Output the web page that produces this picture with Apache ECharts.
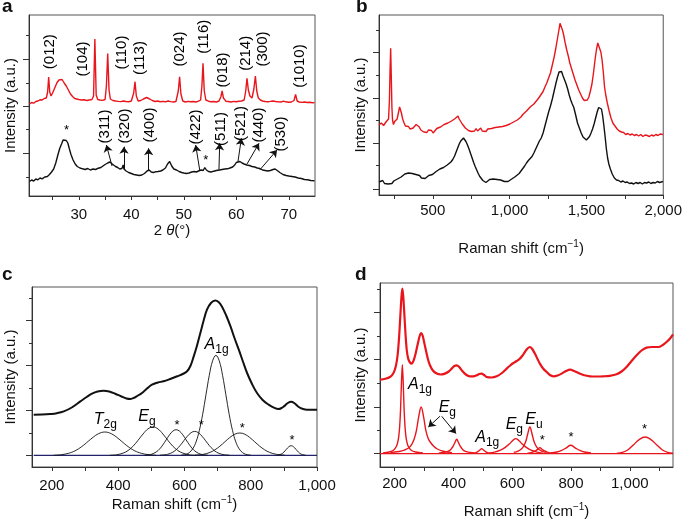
<!DOCTYPE html>
<html><head><meta charset="utf-8">
<script src="https://cdn.jsdelivr.net/npm/echarts@6/dist/echarts.min.js"></script>
<style>html,body{margin:0;padding:0;background:#fff}#c{width:685px;height:520px}</style>
</head><body><div id="c"></div>
<script>
// ---------- Panel a : XRD (2theta, intensity a.u.) ----------
const aRed = [[20.6,92],[21.0,93.5],[21.4,92.8],[21.8,94.5],[22.2,95],[22.6,96.2],[23.0,96],[23.4,97.5],[23.8,98],[24.05,104],[24.25,119],[24.45,104],[24.7,100],[25.0,103],[25.4,108],[25.8,113],[26.2,116],[26.5,115],[26.8,116.5],[27.2,113],[27.6,110],[28.0,106],[28.4,102],[28.8,99.5],[29.2,97.5],[29.6,97],[30.0,96.5],[30.5,96],[31.0,96.2],[31.5,95.5],[32.0,96],[32.5,96.5],[32.8,100],[33.05,157],[33.3,101],[33.6,96.5],[34.0,96],[34.5,95.6],[35.0,96.5],[35.25,110],[35.5,142.5],[35.75,106],[36.0,97],[36.5,95.5],[37.0,95],[37.5,94.6],[38.0,94.4],[38.5,95],[39.0,94.5],[39.5,94.3],[40.0,95],[40.45,103],[40.7,114.3],[40.95,100],[41.3,95],[41.8,95.5],[42.3,97],[42.9,98.5],[43.5,97],[44.0,95.5],[44.5,94.5],[45,95],[45.5,94.3],[46,94.6],[46.5,94.2],[47,95],[47.5,94.4],[48,94],[48.5,94.5],[48.95,105],[49.2,119.3],[49.45,102],[49.8,95],[50.3,94],[50.8,94.6],[51.3,94.2],[51.8,94.5],[52.3,94],[52.8,94.8],[53.2,96],[53.45,110],[53.66,132.7],[53.9,105],[54.2,96],[54.7,94.8],[55.2,94.2],[55.7,94.5],[56.2,94],[56.7,95],[57.05,99],[57.3,105],[57.55,98],[58.0,94.8],[58.5,94.5],[59.0,94],[59.5,94.6],[60.0,94.2],[60.5,94.8],[61.0,95],[61.5,96],[61.8,105],[62.04,117.7],[62.3,106],[62.6,100],[63.0,98],[63.35,107],[63.64,120],[63.9,105],[64.2,98],[64.6,96],[65.0,95],[65.5,94.5],[66.0,94.3],[66.5,94.6],[67.0,95],[67.5,94.5],[68.0,94.2],[68.5,94],[69.0,94.8],[69.2,96],[69.4,94.2],[70.0,93.8],[70.5,94],[71.0,95.5],[71.3,101.7],[71.6,95],[72.0,94],[72.5,93.6],[73.0,94],[73.5,93.5],[74.0,93.8],[74.5,93.2],[74.9,93.4]];
const aBlack = [[20.6,14.5],[21.0,16],[21.4,15],[21.8,17],[22.2,16.2],[22.6,18],[23.0,17.2],[23.5,19],[24.0,19.5],[24.4,21.5],[24.8,24],[25.2,27],[25.6,33],[26.0,41],[26.35,47.5],[26.7,52],[27.0,56],[27.3,58],[27.6,55.5],[27.9,53],[28.2,47],[28.5,41.5],[28.9,36],[29.3,32],[29.7,29.5],[30.2,28],[30.7,27.2],[31.2,26.5],[31.7,27.5],[32.2,26],[32.7,27],[33.2,26.5],[33.7,27.8],[34.2,28.5],[34.6,30],[35.0,31.5],[35.5,33],[35.9,34],[36.2,33],[36.6,31],[37.0,29.5],[37.4,28.5],[37.8,27],[38.2,27.5],[38.45,31],[38.6,27],[39.0,25],[39.5,23.5],[40.0,22.5],[40.5,21.5],[41.0,21],[41.5,20.5],[42.0,21],[42.5,22.5],[43.0,25],[43.4,26],[43.8,24],[44.2,23.5],[44.6,24.2],[45.1,24.5],[45.6,25],[46.0,26],[46.5,28],[46.9,32],[47.3,34.5],[47.7,30],[48.1,27],[48.6,26],[49.1,24.5],[49.6,23.5],[50.0,23],[50.5,22.5],[51.0,23],[51.5,24],[52.0,24.5],[52.4,24],[52.8,25],[53.3,26],[53.7,25.5],[54.0,28.5],[54.3,26],[54.7,24.5],[55.2,24],[55.7,24.8],[56.2,25.5],[56.8,26],[57.3,26.5],[57.8,27],[58.3,27.2],[58.8,28],[59.3,29],[59.7,31],[60.0,33.5],[60.35,35.5],[60.7,34.5],[61.1,33],[61.5,32],[62.0,31],[62.5,30.5],[63.0,29.5],[63.5,29],[64.0,28],[64.5,27.5],[65.0,26],[65.5,25.5],[66.0,25],[66.5,25.5],[67.0,26.5],[67.4,27],[67.8,25.5],[68.3,23.5],[68.9,21.5],[69.5,20.5],[70.0,20],[70.6,19.5],[71.2,19],[71.8,18],[72.4,17.5],[73.0,16.5],[73.6,16.2],[74.2,15.5],[74.9,15.2]];
const aRedLabels = [['(012)',24.44,144.3],['(104)',30.79,137],['(110)',38.1,143.5],['(113)',41.59,138],['(024)',49.21,147],['(116)',53.79,159.3],['(018)',57.35,126],['(214)',61.79,142.7],['(300)',65.09,147],['(1010)',72.13,130]];
const aBlackLabels = [['(311)',35.02,69.5],['(320)',38.68,70],['(400)',43.5,71],['(422)',52.26,69],['(511)',56.97,67],['(521)',60.93,72.5],['(440)',64.37,71],['(530)',68.46,62]];
const aArrows = [[36.32,30,35.25,51],[38.6,26,38.6,49.3],[43.3,26,43.3,47.7],[53.03,26,52.26,51],[56.7,26,56.84,52.7],[60.32,34.3,60.97,57.7],[62.04,32,64.33,52.7],[64.46,26,67.76,46]];
const aStars = [[27.63,66],[54.17,36]];
const aTicksX = [25,30,35,40,45,50,55,60,65,70];
const aLabelsX = [30,40,50,60,70];
const aTicksYMajor = [43,90,137];
const aTicksYMinor = [19,67,113,161];

// ---------- Panel b : Raman wide ----------
const bRed = [[150,70],[165,72],[180,69.5],[195,73],[205,72],[212,76],[218,95],[222,125],[226,146.7],[230,118],[234,88],[238,75],[244,70.5],[252,73.5],[260,72],[268,76],[276,82],[284,88],[290,89],[296,82],[304,76],[312,72.5],[322,69],[332,67],[342,68.5],[352,66],[362,65.5],[372,67],[382,68.5],[392,70.5],[402,71.5],[412,68],[422,65],[432,66.5],[442,63],[452,64.5],[462,62.5],[472,65],[482,63],[492,64.5],[502,62],[514,64],[526,66.5],[538,65],[550,68],[562,67],[574,70.5],[586,69],[598,72],[610,71],[622,74],[634,75],[646,76.5],[656,78.5],[664,79],[672,76],[682,74],[692,71],[702,69.5],[712,67],[722,66],[732,64.5],[742,66],[752,63.5],[762,65.5],[772,64],[782,66.5],[792,64],[802,65],[812,67],[822,64],[834,65.5],[846,63.5],[858,66],[870,64.5],[882,66.5],[894,65],[906,67.5],[918,66],[930,68],[942,67],[954,68.5],[966,67.5],[978,69.5],[990,69],[1002,71],[1014,71.5],[1026,73],[1038,72.5],[1050,75],[1062,76.5],[1074,78],[1086,80.5],[1098,81],[1110,84],[1122,85],[1134,88],[1146,87.5],[1158,91],[1170,93],[1182,95.5],[1194,98],[1206,100],[1218,103.5],[1230,108],[1242,112],[1254,117],[1266,122],[1278,130],[1290,138],[1300,146],[1310,155],[1320,164],[1328,171.7],[1336,170],[1344,165],[1352,160],[1362,152],[1372,145],[1382,139],[1392,132],[1402,127],[1414,121],[1426,115],[1438,110],[1450,105],[1462,101],[1474,97],[1486,94.5],[1496,93],[1506,95],[1516,98],[1526,104],[1536,111],[1546,122],[1556,135],[1566,146],[1574,152],[1580,154],[1586,150],[1594,143],[1602,135],[1610,123],[1618,108],[1626,100],[1636,92],[1648,84],[1660,77],[1672,72],[1686,69],[1700,66],[1714,64],[1728,63],[1742,62.5],[1756,60.5],[1770,61.5],[1784,60],[1798,61],[1812,59.5],[1826,60.5],[1840,59],[1854,60.5],[1868,58.5],[1882,60],[1896,59.5],[1910,58.5],[1924,60],[1938,59],[1952,60.5],[1966,59.5],[1980,61],[1998,60.5]];
const bBlack = [[150,13],[162,12],[174,14.5],[186,11.5],[198,13],[210,11],[222,12.5],[234,11.5],[246,14],[258,13.5],[270,16],[282,15],[294,18],[306,19],[318,21],[330,20],[342,22],[354,20.5],[366,21.5],[378,19.5],[390,20.5],[402,18.5],[414,19.5],[426,17],[438,17.5],[450,16.5],[462,18.5],[474,19.5],[486,21],[498,20.5],[510,22.5],[522,23.5],[534,24],[546,26],[558,25.5],[570,27.5],[582,28.5],[594,30],[606,31],[618,33],[630,35.5],[642,39],[652,43],[662,47],[672,51],[682,54],[692,56],[700,57],[708,56],[716,53.5],[726,50],[736,46],[746,41.5],[756,37],[766,32.5],[776,28.5],[786,25],[796,21.5],[806,18.5],[816,16.5],[826,14.5],[836,13.5],[846,12.5],[858,14.5],[870,15.5],[882,14],[894,16],[906,18],[918,15.5],[930,17],[942,15],[954,14],[966,13.5],[978,12.5],[990,13.5],[1002,15],[1014,16],[1026,17.5],[1038,18.5],[1050,20],[1062,21.5],[1074,24],[1086,26.5],[1098,29],[1110,32],[1122,34.5],[1134,36],[1146,38.5],[1158,42],[1170,46],[1182,50],[1194,54],[1206,57],[1218,62],[1230,69],[1242,76],[1254,83],[1266,89],[1278,96],[1290,104],[1302,112],[1312,118],[1322,123],[1330,125],[1338,123.5],[1348,119],[1358,115],[1368,111],[1378,106],[1388,100],[1398,95],[1408,91],[1418,87.5],[1430,80],[1442,72],[1454,67],[1466,62],[1478,58],[1490,56],[1500,55],[1510,56],[1520,58.5],[1530,62],[1540,66],[1550,71],[1560,77],[1570,83],[1580,87.5],[1590,88.5],[1598,86],[1606,79],[1614,69],[1622,58],[1630,46],[1638,37],[1646,31],[1656,26],[1668,21],[1682,17],[1696,15],[1710,14.5],[1724,13],[1738,14],[1752,12.5],[1766,13],[1780,11.5],[1794,12],[1808,11],[1822,12.5],[1836,11.5],[1850,12.5],[1864,11],[1878,12.5],[1892,12],[1906,13],[1920,11.5],[1934,12.5],[1948,12],[1962,13.5],[1976,12.5],[1998,13.5]];
const bTicksX = [250,500,750,1000,1250,1500,1750,2000];
const bLabelsX = [500,1000,1500,2000];
const bTicksYMajor = [6,51.7,96.7,142.7];
const bTicksYMinor = [29.3,74.3,119.3,165];

// ---------- Panel c : fitted Raman (black) ----------
const cEnvelope = [[145,52.3],[170,52.5],[195,53],[215,53.8],[236,55.6],[260,59.5],[286,65.6],[305,70],[321,73.3],[338,75.5],[356,76.3],[373,75.5],[391,73.3],[410,70.5],[425,68.5],[437,68],[450,69.5],[462,72],[472,74],[487,78.5],[502,82.3],[520,84.5],[537,85.7],[557,88],[578,90.7],[595,93],[608,95.7],[618,101],[628,110.6],[638,121.5],[648,134],[658,146.5],[668,157.3],[680,164],[693,166.6],[703,165],[713,160.6],[726,151.5],[739,140.6],[751,129],[764,117.3],[777,105],[789,94],[804,83],[819,74],[836,67],[854,62.3],[870,59.3],[884,58],[893,59],[900,60.6],[912,64],[922,65.3],[933,63.5],[945,60],[958,58],[970,57.3],[985,57.3],[1000,57.3]];
const cT2g = [[205,11.7],[230,12.4],[250,13.7],[270,16.2],[290,20.4],[310,25.8],[325,29.9],[340,33.2],[360,35],[380,33.2],[395,29.9],[410,25.8],[430,20.4],[450,16.2],[470,13.7],[490,12.4],[515,11.7]];
const cEg = [[375,11.7],[395,12.2],[415,13.9],[430,16.5],[445,20.8],[460,26.7],[475,33],[490,38.1],[505,40],[520,38.1],[535,33],[550,26.7],[565,20.8],[580,16.5],[595,13.9],[615,12.2],[635,11.7]];
const cStar1 = [[480,11.8],[500,12.7],[515,15.1],[525,18],[535,22.2],[545,27.2],[555,32.2],[565,35.9],[575,37.3],[585,35.9],[595,32.2],[605,27.2],[615,22.2],[625,18],[635,15.1],[650,12.7],[670,11.8]];
const cStar2 = [[526,11.8],[549,12.7],[565,14.8],[576,17.6],[587,21.5],[598,26.2],[609,30.8],[620,34.3],[631,35.6],[642,34.3],[653,30.8],[664,26.2],[675,21.5],[686,17.6],[697,14.8],[713,12.7],[736,11.8]];
const cA1g = [[590,11.8],[605,12.7],[615,14.5],[625,18.2],[635,25.1],[645,36.6],[655,52.7],[665,72.3],[675,91.7],[685,106.2],[695,111.6],[705,106.2],[715,91.7],[725,72.3],[735,52.7],[745,36.6],[755,25.1],[765,18.2],[775,14.5],[785,12.7],[800,11.8]];
const cStar3 = [[632,11.9],[657,12.7],[677,14.6],[692,17.2],[707,20.8],[722,25.2],[737,29.5],[752,32.8],[767,34],[782,32.8],[797,29.5],[812,25.2],[827,20.8],[842,17.2],[857,14.6],[877,12.7],[902,11.9]];
const cStar4 = [[878,11.7],[892,12.9],[900,14.9],[907,17.5],[915,20.3],[922,21.3],[929,20.3],[937,17.5],[944,14.9],[952,12.9],[966,11.7]];
const cBaseline = [[145,11.6],[1000,11.6]];
const cLabels = [['{i|T}{s|2g}',361,47],['{i|E}{s|g}',487,50.5],['{i|A}{s|1g}',697,122.5]];
const cStars = [[577.5,41.6],[651,41.6],[774.6,39],[924.6,26.6]];
const cTicksX = [200,300,400,500,600,700,800,900,1000];
const cLabelsX = [200,400,600,800,1000];
const cTicksYMajor = [11.6,56.6,101.6,146.6];
const cTicksYMinor = [34,79,124,169];

// ---------- Panel d : fitted Raman (red) ----------
const dEnvelope = [[150,87.4],[168,88.2],[184,90],[196,94],[204,101],[210,112],[215,130],[219,150],[223,170],[226,178.4],[229,171],[233,152],[237,132],[241,117],[246,108.4],[252,104.5],[258,103.4],[265,107],[270,112],[275,118.4],[280,125],[285,131],[290,134],[295,131.5],[300,125],[306,117],[313,108],[320,101.7],[330,96.5],[343,93.4],[357,92.5],[371,93.4],[384,95.5],[394,98.4],[403,101],[411,101.7],[419,100.2],[428,96.7],[442,92.5],[456,90.7],[468,90.7],[479,91.7],[488,93],[496,93.4],[504,92],[513,90],[530,89.5],[547,90.7],[565,94],[581,98.4],[593,101.5],[604,104],[615,106],[626,108.4],[635,111.5],[643,115],[652,118.5],[660,120],[668,118],[677,113.4],[686,108],[694,103.4],[705,98.5],[717,95],[728,92],[740,90.7],[754,91.5],[768,93.4],[783,96],[797,97.4],[811,96],[825,94],[845,91.7],[865,90.7],[888,90.5],[910,90.7],[932,91.2],[955,92.7],[972,95.5],[989,100],[1006,106],[1023,111.7],[1040,116.5],[1057,119.4],[1077,120],[1097,120],[1112,122],[1125,125],[1137,128.5],[1147,132.7]];
const dA1gA = [[160,14],[181,15],[196,16.8],[206,20.7],[211,25.7],[214,31.2],[217,40.8],[220,57.9],[223,84.6],[226,102.4],[229,84.6],[232,57.9],[235,40.8],[238,31.2],[241,25.7],[246,20.7],[256,16.8],[271,15],[296,14.1]];
const dEgA = [[185,14.4],[215,15.5],[235,17.2],[248,19.2],[258,22.7],[266,27.7],[274,36.7],[282,50.7],[290,60],[298,50.7],[306,36.7],[314,28.5],[322,24.5],[332,21],[345,18],[365,15.8],[395,14.4]];
const dEgB = [[350,13.9],[366,14.5],[381,15.7],[391,17.6],[399,20.8],[405,24.5],[411,27.7],[417,24.5],[423,20.8],[431,17.6],[441,15.7],[456,14.5],[472,13.9]];
const dA1gB = [[460,13.6],[474,14.2],[484,15.6],[490,17],[496,18.4],[502,17],[508,15.6],[518,14.2],[532,13.6]];
const dEgC = [[520,13.8],[540,14.9],[558,16.6],[575,19.3],[590,23],[602,26.5],[612,28.4],[622,26.5],[634,23],[649,19.3],[666,16.6],[684,14.9],[704,13.8]];
const dEu = [[605,14.6],[620,15.9],[632,18.2],[640,21.5],[647,26.5],[653,33.5],[660,40],[667,33.5],[673,26.5],[680,21.5],[688,18.2],[700,15.9],[716,14.6]];
const dStar1 = [[652,13.8],[667,14.6],[679,16.2],[687,17.8],[694,19.4],[701,17.8],[709,16.2],[721,14.6],[736,13.8]];
const dStar2 = [[730,14],[752,15],[768,16.6],[784,19.2],[799,21.7],[814,19.2],[830,16.6],[846,15],[868,14]];
const dStar3 = [[955,13.6],[975,14.6],[993,17],[1012,22],[1032,27.4],[1052,30],[1072,27.4],[1092,22],[1111,17],[1129,14.6],[1147,13.8]];
const dBaseline = [[150,13.4],[1147,13.4]];
const dLabels = [['{i|A}{s|1g}',286,82],['{i|E}{s|g}',379,59],['{i|A}{s|1g}',515,29],['{i|E}{s|g}',607,42.5],['{i|E}{s|u}',674,47.5]];
const dArrows = [[354,50.7,314.5,40],[360,50.7,408.6,33.4]];
const dStars = [[702,26.7],[800,30],[1050,37.4]];
const dTicksX = [200,300,400,500,600,700,800,900,1000,1100];
const dLabelsX = [200,400,600,800,1000];
const dTicksYMajor = [13.4,60,107.4,154.4];
const dTicksYMinor = [36.7,83.4,131,177.7];

// ---------- chart ----------
const FONT = "'Liberation Sans', Arial, Helvetica, sans-serif";
const INK = '#111';
const RED = '#e8161c';
const fmt = v => String(v).replace(/\B(?=(\d{3})+(?!\d))/g, ',');
const nameStyle = {fontSize: 15, color: INK, fontFamily: FONT,
  rich: {it: {fontSize: 15, fontStyle: 'italic', color: INK, fontFamily: FONT},
         sup: {fontSize: 10, color: INK, fontFamily: FONT, padding: [0, 0, 9, 0]},
         n: {fontSize: 15, color: INK, fontFamily: FONT}}};
const ramanName = '{n|Raman shift (cm}{sup|−1}{n|)}';

const grids = [
  {left: 29, top: 15, width: 286, height: 181},
  {left: 379, top: 15, width: 286, height: 180},
  {left: 32, top: 287, width: 285, height: 180},
  {left: 380, top: 283, width: 293, height: 184}
].map(g => Object.assign(g, {show: true, borderColor: '#555', borderWidth: 1, containLabel: false}));
const heights = [181, 180, 180, 184];

function xAx(gi, min, max, ticks, labels, margin, name, nameGap) {
  return {type: 'value', gridIndex: gi, position: 'bottom', min, max, name, nameLocation: 'middle', nameGap,
    nameTextStyle: nameStyle,
    axisLine: {show: true, onZero: false, lineStyle: {color: '#333', width: 1}},
    axisTick: {show: true, inside: false, length: 4, customValues: ticks, lineStyle: {color: '#333'}},
    axisLabel: {show: true, customValues: labels, margin, fontSize: 15, color: INK, fontFamily: FONT,
      formatter: fmt, showMinLabel: true, showMaxLabel: true},
    splitLine: {show: false}};
}
function yAx(gi, major, minor, nameGap) {
  const base = {type: 'value', gridIndex: gi, position: 'left', min: 0, max: heights[gi],
    splitLine: {show: false}, axisLabel: {show: false}};
  return [
    Object.assign({}, base, {name: 'Intensity (a.u.)', nameLocation: 'middle', nameGap, nameRotate: 90,
      nameTextStyle: nameStyle,
      axisLine: {show: true, onZero: false, lineStyle: {color: '#333', width: 1}},
      axisTick: {show: true, inside: false, length: 6, customValues: major, lineStyle: {color: '#333'}}}),
    Object.assign({}, base, {axisLine: {show: false, onZero: false},
      axisTick: {show: true, inside: false, length: 3, customValues: minor, lineStyle: {color: '#333'}}})
  ];
}

const xAxes = [
  xAx(0, 20.5, 75, aTicksX, aLabelsX, 11, '2 {it|θ}(°)', 26),
  xAx(1, 150, 2000, bTicksX, bLabelsX, 8, ramanName, 44),
  xAx(2, 140, 1000, cTicksX, cLabelsX, 11, ramanName, 28),
  xAx(3, 150, 1147, dTicksX, dLabelsX, 9, ramanName, 35)
];
const yAxes = [].concat(
  yAx(0, aTicksYMajor, aTicksYMinor, 11),
  yAx(1, bTicksYMajor, bTicksYMinor, 11),
  yAx(2, cTicksYMajor, cTicksYMinor, 14),
  yAx(3, dTicksYMajor, dTicksYMinor, 12)
);

function line(gi, data, color, width, smooth) {
  return {type: 'line', xAxisIndex: gi, yAxisIndex: gi * 2, data, symbol: 'none', showSymbol: false,
    smooth: smooth || false, lineStyle: {color, width}, silent: true, z: 3};
}
const labRich = {i: {fontSize: 16, fontStyle: 'italic', color: '#000', fontFamily: FONT},
                 s: {fontSize: 12, color: '#000', fontFamily: FONT, padding: [10, 0, 0, 0]}};
function labels(gi, items, rotate, fontSize) {
  return {type: 'scatter', xAxisIndex: gi, yAxisIndex: gi * 2, symbolSize: 1,
    itemStyle: {color: 'rgba(0,0,0,0)'}, silent: true, z: 6,
    data: items.map(t => ({value: [t[1], t[2]], name: t[0]})),
    label: {show: true, position: 'inside', rotate: rotate || 0, formatter: p => p.name, opacity: 1,
      fontSize: fontSize || 15, color: '#000', textBorderWidth: 0, fontFamily: FONT, rich: labRich}};
}
function stars(gi, pts) {
  return {type: 'scatter', xAxisIndex: gi, yAxisIndex: gi * 2, symbolSize: 1,
    itemStyle: {color: 'rgba(0,0,0,0)'}, silent: true, z: 6, data: pts,
    label: {show: true, position: 'inside', formatter: '*', fontSize: 13, color: '#000', opacity: 1,
      textBorderWidth: 0, fontFamily: FONT}};
}
function arrows(gi, arr) {
  return {type: 'lines', coordinateSystem: 'cartesian2d', xAxisIndex: gi, yAxisIndex: gi * 2,
    symbol: ['none', 'arrow'], symbolSize: 7, silent: true, z: 5,
    lineStyle: {color: INK, width: 1, opacity: 1},
    data: arr.map(a => ({coords: [[a[0], a[1]], [a[2], a[3]]]}))};
}

const series = [
  line(0, aRed, RED, 1.4), line(0, aBlack, INK, 1.4),
  labels(0, aRedLabels, 90, 15), labels(0, aBlackLabels, 90, 15), arrows(0, aArrows), stars(0, aStars),
  line(1, bRed, RED, 1.4), line(1, bBlack, INK, 1.4),
  line(2, cBaseline, '#23236b', 1.4),
  line(2, cT2g, INK, 0.9, 0.4), line(2, cEg, INK, 0.9, 0.4), line(2, cStar1, INK, 0.9, 0.4),
  line(2, cStar2, INK, 0.9, 0.4), line(2, cA1g, INK, 0.9, 0.4), line(2, cStar3, INK, 0.9, 0.4),
  line(2, cStar4, INK, 0.9, 0.4), line(2, cEnvelope, INK, 2, 0.4),
  labels(2, cLabels, 0, 16), stars(2, cStars),
  line(3, dBaseline, RED, 1.4),
  line(3, dA1gA, RED, 1.4, 0.3), line(3, dEgA, RED, 1.4, 0.4), line(3, dEgB, RED, 1.4, 0.4),
  line(3, dA1gB, RED, 1.4, 0.4), line(3, dEgC, RED, 1.4, 0.4), line(3, dEu, RED, 1.4, 0.4),
  line(3, dStar1, RED, 1.4, 0.4), line(3, dStar2, RED, 1.4, 0.4), line(3, dStar3, RED, 1.4, 0.4),
  line(3, dEnvelope, RED, 2.2, 0.3),
  labels(3, dLabels, 0, 16), arrows(3, dArrows), stars(3, dStars)
];

const letter = (t, left, top) => ({text: t, left, top, padding: 0,
  textStyle: {fontSize: 19, fontWeight: 'bold', color: INK, fontFamily: FONT}});

const chart = echarts.init(document.getElementById('c'), null, {renderer: 'canvas'});
chart.setOption({
  animation: false,
  backgroundColor: '#fff',
  title: [letter('a', 2, -3), letter('b', 356, -3), letter('c', 2, 265), letter('d', 355, 265)],
  grid: grids,
  xAxis: xAxes,
  yAxis: yAxes,
  series
});
</script></body></html>
